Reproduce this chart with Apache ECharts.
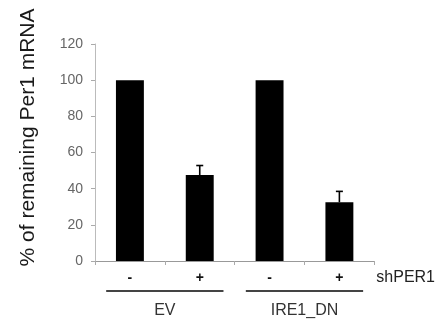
<!DOCTYPE html>
<html><head><meta charset="utf-8">
<script src="https://cdn.jsdelivr.net/npm/echarts@6/dist/echarts.min.js"></script>
<style>html,body{margin:0;padding:0;background:#fff}#c{width:438px;height:323px}</style>
</head><body><div id="c"></div>
<script>
const categories = ['-', '+', '-', '+'];
const values = [100, 47.5, 100, 32.5];
const errors = [0, 5.3, 0, 6];
const groups = ['EV', 'IRE1_DN'];
const groupSpans = [[0, 1], [2, 3]];
const yTicks = [0, 20, 40, 60, 80, 100, 120];

const chart = echarts.init(document.getElementById('c'));
const font = 'Liberation Sans, Arial, sans-serif';
chart.setOption({
  animation: false,
  grid: { left: 95, right: 63, top: 44, bottom: 62 },
  xAxis: [{
    type: 'category', data: categories,
    axisLine: { lineStyle: { color: '#999', width: 1 } },
    axisTick: { show: true, length: 4, lineStyle: { color: '#aaa' } },
    axisLabel: { color: '#111', fontFamily: font, fontSize: 14, fontWeight: 'bold', margin: 10 },
    name: 'shPER1', nameLocation: 'end', nameGap: 2,
    nameTextStyle: { color: '#222', fontFamily: font, fontSize: 16, align: 'left', verticalAlign: 'top', padding: [9, 0, 0, 0] }
  }, {
    type: 'category', data: groups, position: 'bottom', offset: 34,
    axisLine: { show: false }, axisTick: { show: false },
    axisLabel: { color: '#333', fontFamily: font, fontSize: 16 }
  }],
  yAxis: {
    type: 'value', min: 0, max: 120, interval: 20,
    splitLine: { show: false },
    axisLine: { show: true, lineStyle: { color: '#bbb' } },
    axisTick: { show: true, length: 4, lineStyle: { color: '#aaa' } },
    axisLabel: { color: '#666', fontFamily: font, fontSize: 14, margin: 12,
      formatter: v => yTicks.includes(v) ? String(v) : '' },
    name: '% of remaining Per1 mRNA', nameLocation: 'middle', nameGap: 56,
    nameTextStyle: { color: '#1a1a1a', fontFamily: font, fontSize: 21, padding: [0, 0, 0, 30] }
  },
  series: [{
    type: 'bar', data: values, barWidth: '40%',
    itemStyle: { color: '#000' }
  }, {
    type: 'custom',
    data: values.map((v, i) => [i, v, errors[i]]),
    renderItem: function (params, api) {
      const err = api.value(2);
      if (!err) return null;
      const base = api.coord([api.value(0), api.value(1)]);
      const top = api.coord([api.value(0), api.value(1) + err]);
      const half = 3.5;
      const st = { stroke: '#000', lineWidth: 1.6 };
      return { type: 'group', children: [
        { type: 'line', shape: { x1: base[0], y1: base[1], x2: top[0], y2: top[1] }, style: st },
        { type: 'line', shape: { x1: top[0] - half, y1: top[1], x2: top[0] + half, y2: top[1] }, style: st }
      ]};
    },
    z: 3
  }]
});

function drawGroupLines() {
  const y0 = chart.convertToPixel({ yAxisIndex: 0 }, 0);
  const step = chart.convertToPixel({ xAxisIndex: 0 }, 1) - chart.convertToPixel({ xAxisIndex: 0 }, 0);
  const elements = groupSpans.map(span => {
    const a = chart.convertToPixel({ xAxisIndex: 0 }, span[0]);
    const b = chart.convertToPixel({ xAxisIndex: 0 }, span[1]);
    return { type: 'line', shape: { x1: a - step * 0.34, y1: y0 + 30, x2: b + step * 0.34, y2: y0 + 30 },
      style: { stroke: '#444', lineWidth: 2 } };
  });
  chart.setOption({ graphic: elements });
}
drawGroupLines();
</script>
</body></html>
